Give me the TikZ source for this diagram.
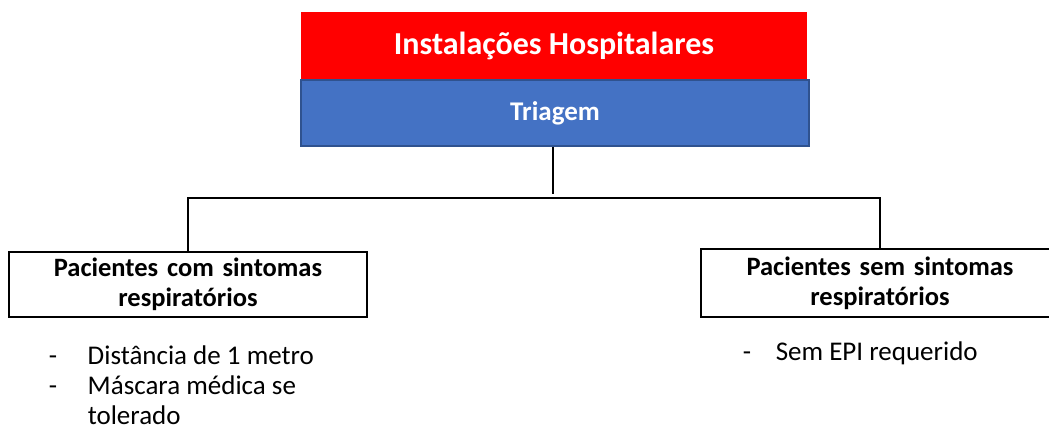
\documentclass[tikz,border=0pt]{standalone}
\usepackage{fontspec}
\setmainfont{Carlito}
\usetikzlibrary{positioning}

\definecolor{headred}{RGB}{255,0,0}
\definecolor{triblue}{RGB}{68,114,196}
\definecolor{triedge}{RGB}{47,82,143}

\newcommand{\dashitem}{\makebox[39pt][l]{-}}

\begin{document}
\begin{tikzpicture}[x=1pt,y=-1pt,thick,line width=1.5pt,
  head node/.style={rectangle,fill=headred,minimum width=506pt,minimum height=68pt,
    font=\fontsize{32}{38}\selectfont\bfseries,text=white,inner sep=0pt},
  tri node/.style={rectangle,fill=triblue,draw=triedge,line width=1.2pt,minimum width=508pt,
    minimum height=66pt,font=\fontsize{27}{32}\selectfont\bfseries,text=white,inner sep=0pt},
  group node/.style={rectangle,draw,minimum width=358pt,text width=350pt,align=center,
    font=\fontsize{26.5}{30}\selectfont\bfseries,inner sep=0pt},
  list node/.style={anchor=north west,align=left,inner sep=0pt,font=\fontsize{27}{30}\selectfont}]

 \useasboundingbox (0,0) rectangle (1049,432);

 \node[head node] (inst) at (554,46) {Instalações Hospitalares};
 \node[tri node] (tri) at (555,113) {Triagem};
 \node[group node,minimum height=65pt] (com) at (188,284.5) {Pacientes com sintomas\\respiratórios};
 \node[group node,minimum height=68pt] (sem) at (880,283) {Pacientes sem sintomas\\respiratórios};
 \coordinate (split) at (553,198);

 \node[list node] (comlist) at (48,345)
   {\dashitem Distância de 1 metro\\\dashitem Máscara médica se\\\hspace*{39pt}tolerado};
 \node[list node] (semlist) at (742,341)
   {\makebox[33pt][l]{-}Sem EPI requerido};

 % connectors
 \draw (tri.south -| split) -- ([yshift=4pt]split);
 \draw (com.north) |- (split) -| (sem.north);

\end{tikzpicture}
\end{document}
